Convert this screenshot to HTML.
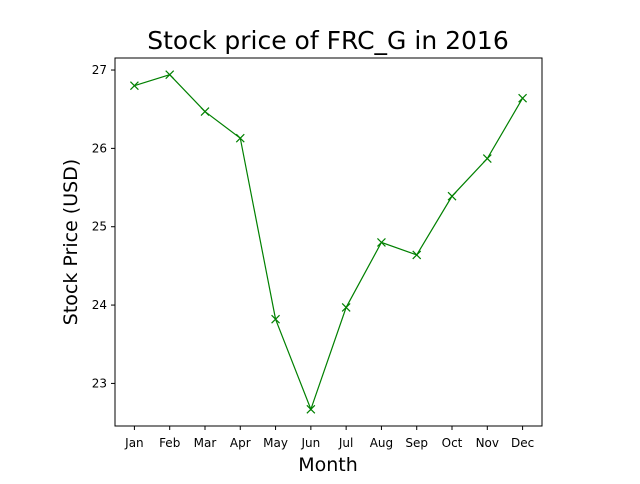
<!DOCTYPE html>
<html><head><meta charset="utf-8"><style>
body{margin:0;background:#fff;font-family:"DejaVu Sans","Liberation Sans",sans-serif}
</style></head><body>
<svg width="640" height="480" xmlns="http://www.w3.org/2000/svg">
<rect width="640" height="480" fill="#fff"/>
<text x="328" y="49" font-size="25" text-anchor="middle">Stock price of FRC_G in 2016</text>
<g id="plot"></g>
<rect x="115" y="58" width="427" height="368" fill="none" stroke="#000" stroke-width="1"/>
<text x="328" y="471" font-size="19" text-anchor="middle">Month</text>
<text x="77" y="242" font-size="19" text-anchor="middle" transform="rotate(-90 77 242)">Stock Price (USD)</text>
</svg>
<script>
const months=["Jan","Feb","Mar","Apr","May","Jun","Jul","Aug","Sep","Oct","Nov","Dec"];
const prices=[26.80,26.94,26.47,26.13,23.82,22.67,23.97,24.80,24.64,25.39,25.87,26.64];
const yTicks=[23,24,25,26,27];
const L=115,R=542,T=58,B=426;
const n=months.length;
const xmin=-0.05*(n-1),xmax=(n-1)*1.05;
const pmin=Math.min(...prices),pmax=Math.max(...prices),pad=(pmax-pmin)*0.05;
const ymin=pmin-pad,ymax=pmax+pad;
const xs=i=>L+(i-xmin)/(xmax-xmin)*(R-L);
const ys=v=>B-(v-ymin)/(ymax-ymin)*(B-T);
const NS="http://www.w3.org/2000/svg";
const g=document.getElementById('plot');
function mk(t,a){const e=document.createElementNS(NS,t);for(const k in a)e.setAttribute(k,a[k]);g.appendChild(e);return e;}
months.forEach((m,i)=>{
  const x=xs(i);
  const tk=mk('line',{x1:x,x2:x,y1:B,y2:B+4,stroke:'#000'});
  
  
  const t=mk('text',{x:x,y:B+21,'font-size':12,'text-anchor':'middle'});t.textContent=m;
  
  
});
yTicks.forEach(v=>{
  const y=ys(v);
  const tk=mk('line',{x1:L-4,x2:L,y1:y,y2:y,stroke:'#000'});
  
  
  const t=mk('text',{x:L-8,y:y+4,'font-size':12,'text-anchor':'end'});t.textContent=v;
  
  
});
const pl=mk('polyline',{points:prices.map((p,i)=>xs(i)+','+ys(p)).join(' '),fill:'none',stroke:'green','stroke-width':1.2});


prices.forEach((p,i)=>{
  const x=xs(i),y=ys(p),s=4;
  const m=mk('path',{d:`M${x-s},${y-s}L${x+s},${y+s}M${x-s},${y+s}L${x+s},${y-s}`,stroke:'green','stroke-width':1.2});
  
  
});
</script>
</body></html>
